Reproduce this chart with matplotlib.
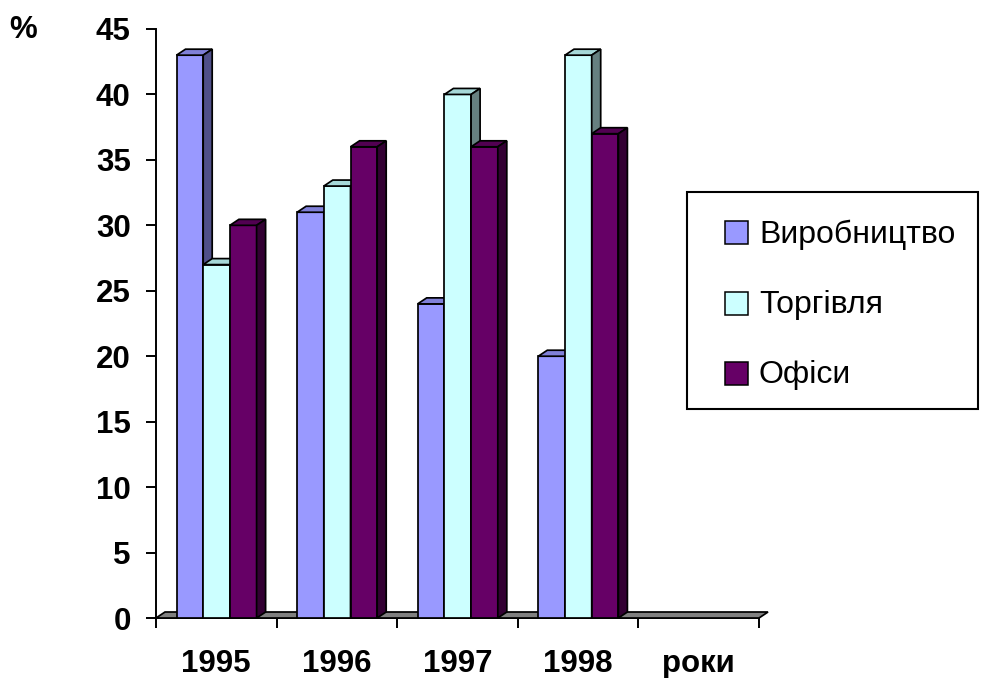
import matplotlib
matplotlib.use('Agg')
import matplotlib.pyplot as plt
from matplotlib.patches import Polygon, Rectangle

years = ['1995', '1996', '1997', '1998', 'роки']
series = ['Виробництво', 'Торгівля', 'Офіси']
vyrobnytstvo = [43, 31, 24, 20]
torhivlia = [27, 33, 40, 43]
ofisy = [30, 36, 36, 37]

front = ['#9999FF', '#CCFFFF', '#660066']
top = ['#8080D8', '#A6D8D8', '#520052']
side = ['#50508A', '#668080', '#330033']

plt.rcParams['font.family'] = ['Liberation Sans', 'DejaVu Sans']

W, H = 982, 678
fig = plt.figure(figsize=(W / 100, H / 100), dpi=100)
ax = fig.add_axes([156 / W, 60 / H, 603 / W, 589 / H])
ax.set_xlim(0, len(years))
ax.set_ylim(0, 45)

# pixel sizes converted into data units
px_x = len(years) / 603
px_y = 45 / 589
dx = 9 * px_x
dy = 6 * px_y
lw = 1.25

# grey floor along the category axis
ax.add_patch(Polygon([(0, 0), (len(years), 0), (len(years) + dx, dy), (dx, dy)],
                     closed=True, facecolor='#808080', edgecolor='black',
                     lw=lw, clip_on=False, zorder=1))

width = 26.7 * px_x
offset = 20.5 * px_x
for g in range(4):
    values = [vyrobnytstvo[g], torhivlia[g], ofisy[g]]
    for k, v in enumerate(values):
        x0 = g + offset + k * width
        x1 = x0 + width
        z = 2 + k
        ax.bar(x0, v, width=width, align='edge', color=front[k],
               edgecolor='black', lw=lw, zorder=z, clip_on=False)
        ax.add_patch(Polygon([(x0, v), (x1, v), (x1 + dx, v + dy), (x0 + dx, v + dy)],
                             closed=True, facecolor=top[k], edgecolor='black',
                             lw=lw, zorder=z, clip_on=False))
        ax.add_patch(Polygon([(x1, 0), (x1 + dx, dy), (x1 + dx, v + dy), (x1, v)],
                             closed=True, facecolor=side[k], edgecolor='black',
                             lw=lw, zorder=z, clip_on=False))

for s in ['top', 'right']:
    ax.spines[s].set_visible(False)
ax.spines['left'].set_linewidth(1.4)
ax.spines['bottom'].set_linewidth(1.4)
ax.spines['bottom'].set_zorder(0.5)

ax.set_yticks(range(0, 46, 5))
ax.tick_params(axis='y', length=7.2, width=1.4, pad=11, labelsize=22.5)
for lab in ax.get_yticklabels():
    lab.set_fontweight('bold')

ax.set_xticks(range(len(years) + 1))
ax.set_xticklabels([])
ax.set_xticks([i + 0.5 for i in range(len(years))], minor=True)
ax.set_xticklabels(years, minor=True, fontsize=22.5, fontweight='bold')
ax.tick_params(axis='x', which='major', length=7, width=1.4, direction='out')
ax.tick_params(axis='x', which='minor', length=0, pad=22)

fig.text(23 / W, 1 - 30 / H, '%', fontsize=22.5, fontweight='bold',
         ha='center', va='center')

# legend box with coloured squares
fig.add_artist(Rectangle((687 / W, 1 - 409 / H), 291 / W, 217 / H,
                         transform=fig.transFigure, facecolor='white',
                         edgecolor='black', lw=1.5))
rows = [232, 303, 373]
for k, name in enumerate(series):
    yc = rows[k]
    fig.add_artist(Rectangle((725 / W, 1 - (yc + 12) / H), 23 / W, 23 / H,
                             transform=fig.transFigure, facecolor=front[k],
                             edgecolor='black', lw=1.1))
    fig.text(759 / W, 1 - (yc - 1) / H, name, fontsize=23,
             ha='left', va='center_baseline')

fig.savefig('out.png', dpi=100)
